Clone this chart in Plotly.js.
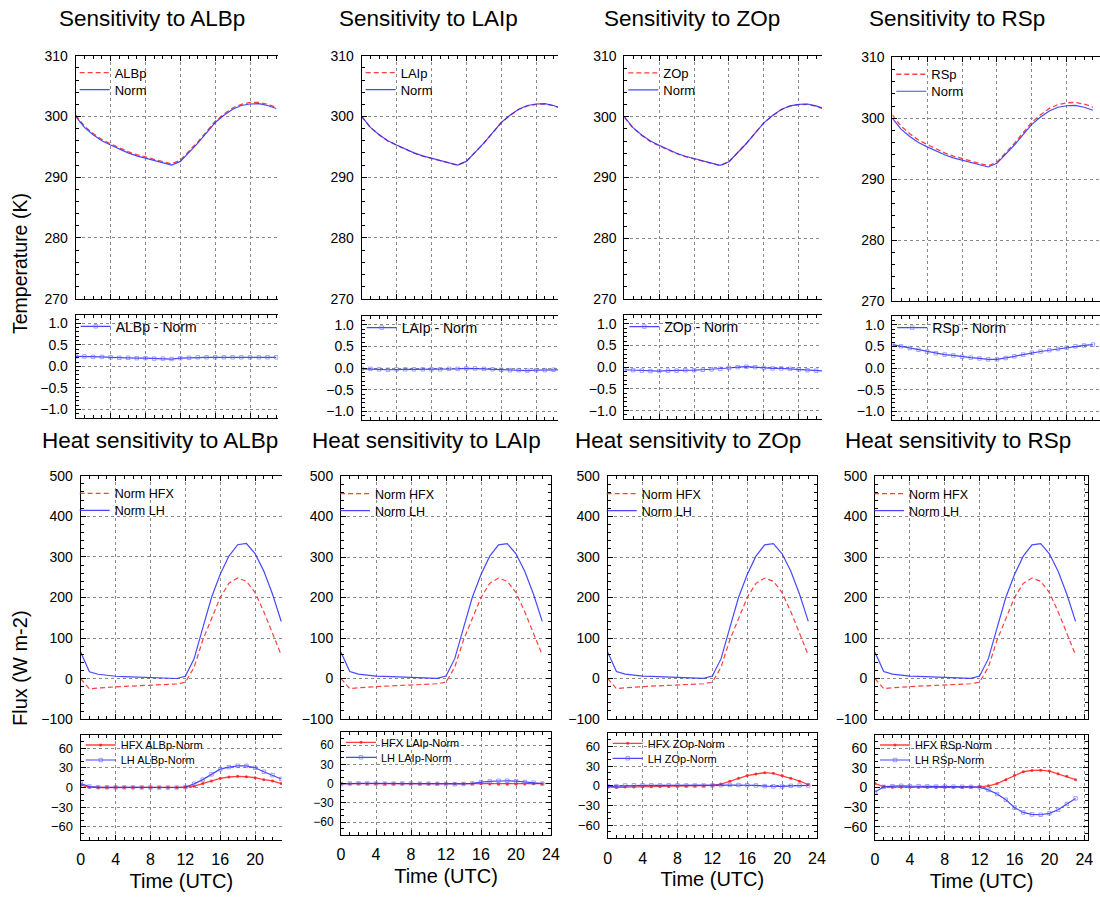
<!DOCTYPE html>
<html><head><meta charset="utf-8">
<script src="https://cdn.plot.ly/plotly-3.0.1.min.js"></script>
<style>html,body{margin:0;padding:0;background:#fff}#chart{width:1100px;height:897px}</style>
</head><body><div id="chart"></div>
<script>
// ---------------- data ----------------
const hours = [0,1,2,3,4,5,6,7,8,9,10,11,12,13,14,15,16,17,18,19,20,21,22,23];
const params = ['ALBp','LAIp','ZOp','RSp'];

const normT = [300.0,298.2,297.0,296.0,295.3,294.6,294.0,293.5,293.1,292.7,292.35,292.0,292.6,294.1,295.6,297.3,299.0,300.2,301.2,301.8,302.05,302.1,301.8,301.3];
const albpT = [300.2,298.4,297.2,296.2,295.5,294.8,294.2,293.7,293.3,292.9,292.5,292.2,292.8,294.3,295.8,297.5,299.2,300.4,301.4,302.0,302.3,302.3,302.0,301.5];
const laipT = [299.98,298.17,296.97,295.96,295.27,294.57,293.97,293.47,293.07,292.67,292.33,291.99,292.6,294.09,295.59,297.27,298.96,300.15,301.15,301.74,302.0,302.05,301.76,301.26];
const zopT  = [299.94,298.13,296.92,295.91,295.21,294.52,293.92,293.43,293.03,292.64,292.3,291.96,292.58,294.1,295.61,297.3,298.98,300.17,301.17,301.76,302.0,302.03,301.72,301.21];
const rspT  = [300.54,298.7,297.46,296.42,295.68,294.94,294.31,293.79,293.36,292.94,292.57,292.2,292.8,294.33,295.87,297.61,299.35,300.58,301.61,302.24,302.52,302.6,302.32,301.84];

const albpDiff = [0.23,0.23,0.22,0.22,0.21,0.2,0.2,0.19,0.19,0.18,0.18,0.17,0.19,0.2,0.21,0.21,0.21,0.21,0.21,0.21,0.21,0.21,0.21,0.21];
const laipDiff = [-0.02,-0.02,-0.03,-0.04,-0.03,-0.03,-0.03,-0.03,-0.03,-0.03,-0.02,-0.02,-0.01,-0.01,-0.02,-0.03,-0.04,-0.05,-0.05,-0.06,-0.05,-0.05,-0.04,-0.04];
const zopDiff  = [-0.06,-0.07,-0.08,-0.09,-0.09,-0.08,-0.08,-0.07,-0.07,-0.06,-0.05,-0.04,-0.02,0.0,0.01,0.0,-0.02,-0.03,-0.03,-0.04,-0.05,-0.07,-0.08,-0.09];
const rspDiff  = [0.54,0.5,0.46,0.42,0.38,0.34,0.31,0.29,0.26,0.24,0.22,0.2,0.2,0.23,0.27,0.31,0.35,0.38,0.41,0.44,0.47,0.5,0.52,0.54];

const normHFX = [0,-25,-23,-21,-20,-19,-18,-17,-16,-15,-14,-13,-9,28,95,150,200,235,248,240,212,165,112,58];
const normLH  = [65,17,11,8,6,5,4,3,2,1.5,1,0.5,6,49,125,200,257,302,330,333,308,265,208,141];

const hfxAlbp = [3.6,0.5,0,0,0,0,0,0,0,0,0,0,0.5,2,6,10,14,16,17,16.4,15,12,10,6];
const lhAlbp  = [6,1.5,0.5,0.3,0.2,0.2,0.1,0.1,0,0,0,0,0.5,5.6,12,20,28,31,33,33,30,24,19,13];
const hfxLaip = [0,0,0,0,0,0,0,0,0,0,0,0,0,0,0,0,0,-0.5,-1,-1,-1,-0.5,0,0];
const lhLaip  = [-0.5,0.3,0.5,0.3,0.2,0,0,0.2,0.2,0,0,-0.3,-0.5,-0.8,-0.5,0.3,2.5,3.5,4.5,4.5,3.8,2.5,1.5,0];
const hfxZop  = [-1.5,-2.6,-2,-1.8,-1.5,-1.3,-1.2,-1,-0.8,-0.6,-0.4,-0.2,0.5,2.6,7,11.5,15.6,18,20,19,15.6,11.5,7,2];
const lhZop   = [-1,-0.5,0.5,0.8,0.8,0.8,0.7,0.7,0.7,0.6,0.5,0.5,0.5,1,1.2,1.2,1,0.5,-0.5,-1,-1,0,0.5,0.5];
const hfxRsp  = [6,1.5,0.5,0.3,0.3,0.3,0.3,0.3,0.3,0.5,0.5,0.7,1,2.6,6,12,18.6,24,26,26.4,25,21,17,12];
const lhRsp   = [-7,1,2,2.6,2,2,1.8,1.5,1.5,1.3,1.2,1,0.5,-3.6,-10,-18.6,-30.5,-38,-41,-41.5,-39.4,-34,-25,-16.6];

const pertT   = [albpT, laipT, zopT, rspT];
const pertD   = [albpDiff, laipDiff, zopDiff, rspDiff];
const hfxDiff = [hfxAlbp, hfxLaip, hfxZop, hfxRsp];
const lhDiff  = [lhAlbp, lhLaip, lhZop, lhRsp];

// ---------------- layout geometry (pixels) ----------------
const W = 1100, H = 897, PXH = 8.72;
const boxes = [
  [{x0:75.7,x1:278,top:55.7,bottom:298.7,crop:true},{x0:75.7,x1:278,top:314.7,bottom:418,crop:true},
   {x0:80.7,x1:282,top:475.7,bottom:719.3,crop:true},{x0:80.7,x1:282,top:735,bottom:840,crop:true}],
  [{x0:361.7,x1:558,top:55.7,bottom:298.7,crop:true},{x0:361.7,x1:558,top:316,bottom:420,crop:true},
   {x0:341,x1:551,top:476,bottom:719,crop:false,xmax:24},{x0:341,x1:551,top:732.3,bottom:835,crop:false,xmax:24}],
  [{x0:624.3,x1:822,top:56,bottom:299,crop:true},{x0:624.3,x1:822,top:315,bottom:419.3,crop:true},
   {x0:607.7,x1:817,top:476,bottom:719,crop:false,xmax:24},{x0:607.7,x1:817,top:733.3,bottom:838.3,crop:false,xmax:24}],
  [{x0:892.3,x1:1100,top:57.3,bottom:301,crop:true},{x0:892.3,x1:1100,top:316,bottom:420,crop:true},
   {x0:875,x1:1088,top:476,bottom:719,crop:false},{x0:875,x1:1088,top:735,bottom:840,crop:false}]
];
// legend rows: [text start offset from x0, centre offset from top] per trace, per row type
const legRows = [
  [[42,17],[42,34]],
  [[43,12]],
  [[37,18],[37,35]],
  [[43,10],[43,25]]
];
const legFontSize = [13,14,12.5,11];
const fdiffYFont = [13,12,13,14];

const FONT = 'Liberation Sans, Arial, Helvetica, sans-serif';
const RED = 'rgba(255,30,30,0.85)', BLUE = 'rgba(40,40,255,0.85)';

const yspec = [
  {range:[270,310], tick0:270, dtick:10, minor:2, fmt:'d'},
  {range:[-1.2,1.2], tick0:-1, dtick:0.5, minor:0.1, fmt:'.1f'},
  {range:[-100,500], tick0:-100, dtick:100, minor:20, fmt:'d'},
  {range:[-80,80], tick0:0, dtick:30, minor:10, fmt:'d'}
];

const traces = [];
const layout = {
  width: W, height: H, margin:{l:0,r:0,t:0,b:0},
  paper_bgcolor:'#fff', plot_bgcolor:'#fff', showlegend:true,
  font:{family:FONT, color:'#000'}, annotations:[]
};

let n = 0, L = 0;
function addTrace(tr, b, r, k, xs) {
  L++;
  const lg = 'legend' + (L === 1 ? '' : L);
  const row = legRows[r][k];
  layout[lg] = {x:(b.x0 + row[0] - 43)/W, y:1 - (b.top + row[1])/H, xanchor:'left', yanchor:'middle',
    bgcolor:'rgba(0,0,0,0)', borderwidth:0, font:{size:legFontSize[r], family:FONT}, itemwidth:30};
  tr.legend = lg; tr.xaxis = 'x' + xs; tr.yaxis = 'y' + xs; tr.x = hours;
  traces.push(tr);
}
for (let c = 0; c < 4; c++) {
  for (let r = 0; r < 4; r++) {
    n++;
    const b = boxes[c][r];
    const xs = n === 1 ? '' : String(n);
    const xk = 'xaxis' + xs, yk = 'yaxis' + xs;
    const xmax = b.xmax || (b.x1 - b.x0) / PXH;
    const common = {ticks:'inside', tickcolor:'#000', ticklen:5, showline:true, linecolor:'#000', linewidth:1,
      showgrid:true, gridcolor:'#8a8a8a', griddash:'dot', gridwidth:1, zeroline:false};
    layout[xk] = Object.assign({}, common, {
      domain:[b.x0/W, b.x1/W], range:[0, xmax], anchor:'y'+xs,
      tick0:0, dtick:4, mirror:'allticks', showticklabels: r === 3,
      tickfont:{size:16, family:FONT}, ticklabelstandoff:5,
      minor:{dtick:1, ticks:'inside', ticklen:3, tickcolor:'#000', showgrid:false}
    });
    if (r === 3) layout[xk].title = {text:'Time (UTC)', font:{size:20, family:FONT}, standoff:6};
    const ys = yspec[r];
    layout[yk] = Object.assign({}, common, {
      domain:[1 - b.bottom/H, 1 - b.top/H], range:ys.range, anchor:'x'+xs,
      tick0:ys.tick0, dtick:ys.dtick, tickformat:ys.fmt, mirror: b.crop ? false : 'allticks',
      tickfont:{size: r === 3 ? fdiffYFont[c] : 14, family:FONT}, ticklabelstandoff:4,
      minor:{dtick:ys.minor, ticks:'inside', ticklen:3, tickcolor:'#000', showgrid:false}
    });
    const p = params[c];
    if (r === 0) {
      addTrace({y:pertT[c], name:p, mode:'lines', line:{color:RED, width:1.3, dash:'5px,3px'}}, b, r, 0, xs);
      addTrace({y:normT, name:'Norm', mode:'lines', line:{color:BLUE, width:1.2}}, b, r, 1, xs);
    } else if (r === 1) {
      addTrace({y:pertD[c], name:p + ' - Norm', mode:'lines+markers',
        line:{color:BLUE, width:1.2}, marker:{symbol:'square-open', size:3.5, color:'rgba(100,100,255,0.6)', line:{width:1}}}, b, r, 0, xs);
    } else if (r === 2) {
      addTrace({y:normHFX, name:'Norm HFX', mode:'lines', line:{color:RED, width:1.2, dash:'5px,3px'}}, b, r, 0, xs);
      addTrace({y:normLH, name:'Norm LH', mode:'lines', line:{color:BLUE, width:1.2}}, b, r, 1, xs);
    } else {
      addTrace({y:hfxDiff[c], name:'HFX ' + p + '-Norm', mode:'lines+markers',
        line:{color:RED, width:1.3}, marker:{symbol:'circle', size:3, color:RED}}, b, r, 0, xs);
      addTrace({y:lhDiff[c], name:'LH ' + p + '-Norm', mode:'lines+markers',
        line:{color:BLUE, width:1.2}, marker:{symbol:'square-open', size:3.5, color:'rgba(100,100,255,0.6)', line:{width:1}}}, b, r, 1, xs);
    }
  }
}

function ann(text, px, py, size, extra) {
  layout.annotations.push(Object.assign({text:text, x:px/W, y:1-py/H, xref:'paper', yref:'paper',
    showarrow:false, xanchor:'center', yanchor:'middle', font:{size:size, family:FONT, color:'#000'}}, extra||{}));
}
const titleX = [152, 428, 692, 957];
const heatX = [160, 426, 688, 958];
for (let c = 0; c < 4; c++) {
  ann('Sensitivity to ' + params[c], titleX[c], 19, 22.5);
  ann('Heat sensitivity to ' + params[c], heatX[c], 440, 22.5);
}
ann('Temperature (K)', 20, 264, 19.5, {textangle:-90});
ann('Flux (W m-2)', 20, 668, 20, {textangle:-90});

Plotly.newPlot('chart', traces, layout, {staticPlot:true});
</script></body></html>
